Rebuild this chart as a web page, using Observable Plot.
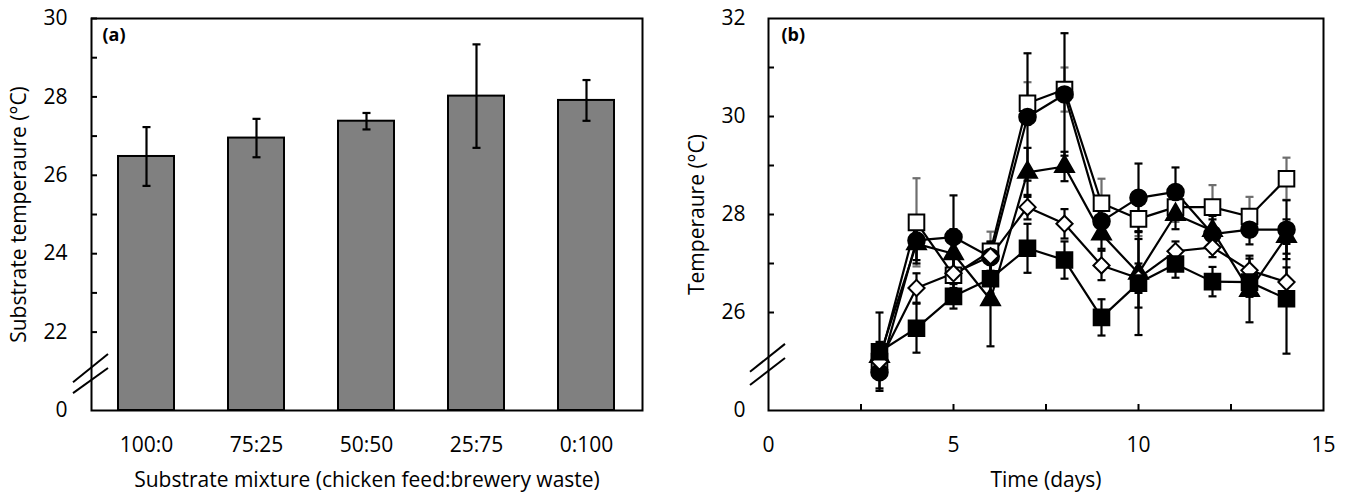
<!DOCTYPE html>
<html><head><meta charset="utf-8">
<script src="https://cdn.jsdelivr.net/npm/d3@7"></script>
<script src="https://cdn.jsdelivr.net/npm/@observablehq/plot@0.6"></script>
<style>
body{margin:0;background:#fff;}
#wrap{display:flex;width:1349px;height:494px;overflow:hidden;}
</style></head>
<body><div id="wrap"><div id="a"></div><div id="b"></div></div>
<script>
// ---------- Panel (a) data ----------
const mixtures = ["100:0", "75:25", "50:50", "25:75", "0:100"];
const meanA = [26.48, 26.95, 27.38, 28.02, 27.91];
const sdA = [0.75, 0.49, 0.21, 1.32, 0.52];
const yTicksA = [20, 22, 24, 26, 28, 30];
const yTickLabelsA = ["0", "22", "24", "26", "28", "30"];
const yMinorA = [22, 23, 24, 25, 26, 27, 28, 29, 30];
const breakA = [[20.71, 21.43], [20.43, 21.07]];

// ---------- Panel (b) data ----------
const days = [3, 4, 5, 6, 7, 8, 9, 10, 11, 12, 13, 14];
const openSquare     = [25.00, 27.84, 26.76, 27.25, 30.27, 30.55, 28.23, 27.91, 28.15, 28.15, 27.96, 28.73];
const filledCircle   = [24.78, 27.47, 27.54, 27.13, 29.99, 30.45, 27.86, 28.34, 28.46, 27.60, 27.69, 27.69];
const filledTriangle = [25.10, 27.40, 27.20, 26.26, 28.86, 28.98, 27.60, 26.80, 28.00, 27.67, 26.45, 27.55];
const openDiamond    = [25.00, 26.50, 26.80, 27.15, 28.15, 27.81, 26.96, 26.70, 27.25, 27.33, 26.86, 26.62];
const filledSquare   = [25.20, 25.68, 26.33, 26.69, 27.31, 27.07, 25.90, 26.60, 26.99, 26.63, 26.62, 26.28];
const sdOpenSquare     = [0.30, 0.90, 0.50, 0.40, 0.43, 0.45, 0.50, 0.35, 0.30, 0.45, 0.40, 0.43];
const sdFilledCircle   = [0.33, 0.40, 0.85, 0.30, 1.30, 1.25, 0.30, 0.70, 0.50, 0.30, 0.30, 0.60];
const sdFilledTriangle = [0.30, 0.40, 0.50, 0.95, 0.50, 0.30, 0.30, 0.70, 0.30, 0.30, 0.65, 0.35];
const sdOpenDiamond    = [0.20, 0.30, 0.30, 0.30, 0.25, 0.30, 0.30, 0.30, 0.20, 0.20, 0.30, 0.30];
const sdFilledSquare   = [0.80, 0.50, 0.25, 0.30, 0.50, 0.38, 0.37, 1.06, 0.28, 0.30, 0.30, 1.12];
const xTicksB = [0, 5, 10, 15];
const xMinorB = [2.5, 5, 7.5, 10, 12.5];
const yTicksB = [24, 26, 28, 30, 32];
const yTickLabelsB = ["0", "26", "28", "30", "32"];
const yMinorB = [26, 27, 28, 29, 30, 31];
const breakB = [[24.78, 25.35], [24.51, 25.06]];

const FONT = "'Open Sans', sans-serif";
const capSymbol = {draw(ctx, size) { const w = Math.sqrt(size / Math.PI); ctx.moveTo(-w, 0); ctx.lineTo(w, 0); }};

function addBreak(svg, left, breaks) {
  const y = svg.scale("y");
  const g = d3.select(svg).append("g").attr("stroke", "black").attr("stroke-width", 2);
  for (const [lo, hi] of breaks) {
    g.append("line").attr("x1", left - 18).attr("y1", y.apply(lo))
      .attr("x2", left + 17).attr("y2", y.apply(hi));
  }
}

// ---------- Panel (a) ----------
const rowsA = mixtures.map((m, i) => ({mix: m, mean: meanA[i], lo: meanA[i] - sdA[i], hi: meanA[i] + sdA[i]}));
const labA = new Map(yTicksA.map((t, i) => [t, yTickLabelsA[i]]));
const mlA = 91;
const plotA = Plot.plot({
  width: 674, height: 494,
  marginLeft: mlA, marginRight: 32, marginTop: 18, marginBottom: 84,
  style: {fontFamily: FONT, fontSize: "22px", color: "black", background: "white"},
  x: {domain: mixtures, paddingInner: 0.49, paddingOuter: 0.245},
  y: {domain: [yTicksA[0], yTicksA[yTicksA.length - 1]]},
  marks: [
    Plot.barY(rowsA, {x: "mix", y1: yTicksA[0], y2: "mean", fill: "#808080", stroke: "black", strokeWidth: 2}),
    Plot.ruleX(rowsA, {x: "mix", y1: "lo", y2: "hi", stroke: "black", strokeWidth: 2.2}),
    Plot.dot(rowsA, {x: "mix", y: "lo", symbol: capSymbol, r: 4, fill: "none", stroke: "black", strokeWidth: 2.2}),
    Plot.dot(rowsA, {x: "mix", y: "hi", symbol: capSymbol, r: 4, fill: "none", stroke: "black", strokeWidth: 2.2}),
    Plot.frame({stroke: "black", strokeWidth: 2}),
    Plot.axisY({ticks: yMinorA, tickSize: 6, dx: 6, tickFormat: () => "", label: null, strokeWidth: 2}),
    Plot.axisY({ticks: yTicksA, tickSize: 0, tickPadding: 24, tickFormat: d => labA.get(d),
      label: "Substrate temperaure (°C)", labelAnchor: "center", labelOffset: 80, labelArrow: "none", fontSize: 21}),
    Plot.axisX({tickSize: 0, tickPadding: 27, label: "Substrate mixture (chicken feed:brewery waste)",
      labelAnchor: "center", labelOffset: 76, labelArrow: "none", fontSize: 21}),
    Plot.text(["(a)"], {frameAnchor: "top-left", textAnchor: "start", lineAnchor: "middle", dx: 11, dy: 17, fontWeight: "bold", fontSize: 18})
  ]
});
addBreak(plotA, mlA, breakA);
document.getElementById("a").append(plotA);

// ---------- Panel (b) ----------
const seriesB = [
  {name: "open square", values: openSquare, sd: sdOpenSquare, symbol: "square", r: 8.8, fill: "white", err: "#6e6e6e"},
  {name: "filled circle", values: filledCircle, sd: sdFilledCircle, symbol: "circle", r: 8.3, fill: "black", err: "black"},
  {name: "filled triangle", values: filledTriangle, sd: sdFilledTriangle, symbol: "triangle", r: 7, fill: "black", err: "black"},
  {name: "open diamond", values: openDiamond, sd: sdOpenDiamond, symbol: "diamond2", r: 7.3, fill: "white", err: "black"},
  {name: "filled square", values: filledSquare, sd: sdFilledSquare, symbol: "square", r: 8.8, fill: "black", err: "black"}
];
const rowsB = seriesB.flatMap(s => days.map((d, i) => ({series: s.name, day: d, v: s.values[i], lo: s.values[i] - s.sd[i], hi: s.values[i] + s.sd[i]})));
const labB = new Map(yTicksB.map((t, i) => [t, yTickLabelsB[i]]));
const mlB = 94;
const errMarks = seriesB.flatMap(s => {
  const r = rowsB.filter(d => d.series === s.name);
  return [
    Plot.ruleX(r, {x: "day", y1: "lo", y2: "hi", stroke: s.err, strokeWidth: 2.2}),
    Plot.dot(r, {x: "day", y: "lo", symbol: capSymbol, r: 4, fill: "none", stroke: s.err, strokeWidth: 2.2}),
    Plot.dot(r, {x: "day", y: "hi", symbol: capSymbol, r: 4, fill: "none", stroke: s.err, strokeWidth: 2.2})
  ];
});
const dotMarks = seriesB.map(s =>
  Plot.dot(rowsB.filter(d => d.series === s.name), {x: "day", y: "v", symbol: s.symbol, r: s.r, fill: s.fill, stroke: "black", strokeWidth: 2})
);
const plotB = Plot.plot({
  width: 675, height: 494,
  marginLeft: mlB, marginRight: 26, marginTop: 18, marginBottom: 84,
  style: {fontFamily: FONT, fontSize: "22px", color: "black", background: "white"},
  x: {domain: [xTicksB[0], xTicksB[xTicksB.length - 1]]},
  y: {domain: [yTicksB[0], yTicksB[yTicksB.length - 1]]},
  marks: [
    ...errMarks,
    Plot.line(rowsB, {x: "day", y: "v", z: "series", stroke: "black", strokeWidth: 2.2}),
    ...dotMarks,
    Plot.frame({stroke: "black", strokeWidth: 2}),
    Plot.axisY({ticks: yMinorB, tickSize: 6, dx: 6, tickFormat: () => "", label: null, strokeWidth: 2}),
    Plot.axisY({ticks: yTicksB, tickSize: 0, tickPadding: 23, tickFormat: d => labB.get(d),
      label: "Temperaure (°C)", labelAnchor: "center", labelOffset: 79, labelArrow: "none", fontSize: 21}),
    Plot.axisX({ticks: xMinorB, tickSize: 6, dy: -6, tickFormat: () => "", label: null, strokeWidth: 2}),
    Plot.axisX({ticks: xTicksB, tickSize: 0, tickPadding: 27, tickFormat: d => String(d), label: "Time (days)",
      labelAnchor: "center", labelOffset: 76, labelArrow: "none", fontSize: 21}),
    Plot.text(["(b)"], {frameAnchor: "top-left", textAnchor: "start", lineAnchor: "middle", dx: 13, dy: 17, fontWeight: "bold", fontSize: 18})
  ]
});
addBreak(plotB, mlB, breakB);
document.getElementById("b").append(plotB);
</script>
</body></html>
